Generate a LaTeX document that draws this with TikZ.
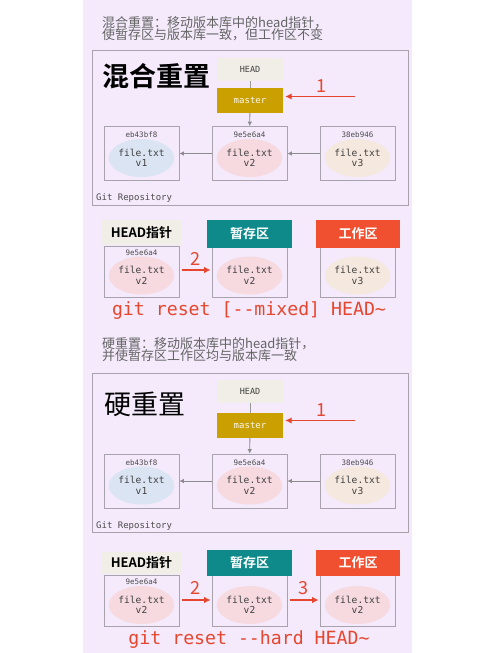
\documentclass[tikz,border=0pt]{standalone}
\usepackage{fontspec}
\setmonofont{DejaVu Sans Mono}
\newfontfamily\cjk{Noto Sans CJK SC}[BoldFont={Noto Sans CJK SC Bold}]
\usetikzlibrary{shapes.geometric,arrows.meta}
\definecolor{lav}{RGB}{244,234,251}
\definecolor{boxline}{RGB}{168,162,172}
\definecolor{headfill}{RGB}{240,238,230}
\definecolor{gold}{RGB}{201,160,0}
\definecolor{teal}{RGB}{14,138,138}
\definecolor{orng}{RGB}{240,80,48}
\definecolor{redc}{RGB}{230,70,46}
\definecolor{bv1}{RGB}{218,228,242}
\definecolor{bv2}{RGB}{246,218,224}
\definecolor{bv3}{RGB}{245,232,222}
\definecolor{desc}{RGB}{100,100,100}
\tikzset{
  desctext/.style={anchor=west,align=left,text=desc,inner sep=0pt,font=\cjk\fontsize{13}{12.5}\selectfont},
  bigtitle/.style={inner sep=0pt,font=\cjk\fontsize{27}{27}\selectfont},
  repo/.style={draw=boxline,line width=0.8pt},
  headnode/.style={fill=headfill,minimum width=66pt,minimum height=23pt,inner sep=0pt,text=black!75,font=\ttfamily\fontsize{8.5}{9}\selectfont},
  masternode/.style={fill=gold,minimum width=66pt,minimum height=25pt,inner sep=0pt,text=white!92!gold,font=\ttfamily\fontsize{9}{9}\selectfont},
  commit/.style={draw=boxline,line width=0.7pt,minimum width=75pt,minimum height=54pt,inner sep=0pt},
  lbox/.style={draw=boxline,line width=0.7pt,minimum width=75pt,minimum height=51pt,inner sep=0pt},
  hashtext/.style={inner sep=0pt,text=black!70,font=\ttfamily\fontsize{7.5}{7.5}\selectfont},
  blob/.style={ellipse,minimum width=58pt,minimum height=38pt,inner sep=0pt,align=center,text=black!75,font=\ttfamily\fontsize{9.6}{10.5}\selectfont},
  garrow/.style={draw=black!45,line width=0.8pt,-{Latex[length=4.5pt,width=4.5pt]}},
  gline/.style={draw=black!40,line width=0.8pt},
  rarrow/.style={draw=redc,line width=1.6pt,-{Latex[length=6.5pt,width=6.5pt]}},
  rlabel/.style={inner sep=0pt,text=redc,font=\cjk\fontsize{18}{18}\selectfont},
  hdr/.style={minimum height=26pt,inner sep=0pt,font=\cjk\bfseries\fontsize{13}{13}\selectfont},
  cmd/.style={inner sep=0pt,text=redc,font=\ttfamily\fontsize{18.2}{18}\selectfont},
  repolabel/.style={anchor=west,inner sep=0pt,text=black!70,font=\ttfamily\fontsize{9}{9}\selectfont}
}
\newcommand\mkcommit[6]{%
  \node[commit] (#1) at (#2,#3) {};
  \node[hashtext] (#1h) at (#2,{#3-18.5}) {#4};
  \node[blob,fill=#5] (#1b) at (#2,{#3+4.5}) {file.txt\\#6};
}
\newcommand\mklbox[5]{%
  \node[lbox] (#1) at (#2,#3) {};
  \node[blob,fill=#4] (#1b) at (#2,{#3+4}) {file.txt\\#5};
}
\begin{document}
\begin{tikzpicture}[x=1pt,y=-1pt]
\useasboundingbox (0,0) rectangle (500,653);
\fill[white] (0,0) rectangle (500,653);
\fill[lav] (83,0) rectangle (412,653);

% ---------- Section 1: mixed reset ----------
\node[desctext] (d1) at (102,28.5) {混合重置：移动版本库中的head指针，\\使暂存区与版本库一致，但工作区不变};
\node[repo,minimum width=316pt,minimum height=155pt,inner sep=0pt] (repo1) at (250,127.5) {};
\node[bigtitle,font=\cjk\bfseries\fontsize{27}{27}\selectfont] (t1) at (156,76) {混合重置};
\node[headnode] (hd1) at (250,69.5) {HEAD};
\node[masternode] (ms1) at (250,100.5) {master};
\draw[gline] (hd1) -- (ms1);
\mkcommit{a1}{141.5}{153.5}{eb43bf8}{bv1}{v1}
\mkcommit{b1}{249.5}{153.5}{9e5e6a4}{bv2}{v2}
\mkcommit{c1}{357.5}{153.5}{38eb946}{bv3}{v3}
\draw[garrow] (ms1) -- (b1);
\draw[garrow] (b1) -- (a1);
\draw[garrow] (c1) -- (b1);
\node[repolabel] (rl1) at (96,198.5) {Git Repository};
\coordinate (r1s) at (355,96.5);
\draw[rarrow] (r1s) -- ([xshift=2pt]ms1.east |- r1s);
\node[rlabel] (n1a) at (321,86) {1};

% lower part 1
\mklbox{hb1}{141.5}{271.5}{bv2}{v2}
\node[hashtext] (hb1h) at (141.5,253) {9e5e6a4};
\mklbox{sb1}{249.5}{271.5}{bv2}{v2}
\mklbox{wb1}{357.5}{271.5}{bv3}{v3}
\node[hdr,fill=headfill,minimum width=81pt,minimum height=25pt,text=black] (hh1) at (141.5,232.5) {HEAD指针};
\node[hdr,fill=teal,minimum width=85pt,minimum height=28pt,text=white] (sh1) at (249.5,234) {暂存区};
\node[hdr,fill=orng,minimum width=84pt,minimum height=28pt,text=white] (wh1) at (358,234) {工作区};
\draw[rarrow,shorten <=3pt,shorten >=1pt] (hb1.east |- 0,270) -- (sb1.west |- 0,270);
\node[rlabel] (n2a) at (195.5,259) {2};
\node[cmd] (cmd1) at (249,311) {git reset [-{}-mixed] HEAD\textasciitilde};

% ---------- Section 2: hard reset ----------
\node[desctext] (d2) at (102,349.5) {硬重置：移动版本库中的head指针，\\并使暂存区工作区均与版本库一致};
\node[repo,minimum width=316pt,minimum height=159pt,inner sep=0pt] (repo2) at (250,452.5) {};
\node[bigtitle] (t2) at (144.5,404) {硬重置};
\node[headnode] (hd2) at (250,391) {HEAD};
\node[masternode] (ms2) at (250,425.5) {master};
\draw[gline] (hd2) -- (ms2);
\mkcommit{a2}{141.5}{481}{eb43bf8}{bv1}{v1}
\mkcommit{b2}{249.5}{481}{9e5e6a4}{bv2}{v2}
\mkcommit{c2}{357.5}{481}{38eb946}{bv3}{v3}
\draw[garrow] (ms2) -- (b2);
\draw[garrow] (b2) -- (a2);
\draw[garrow] (c2) -- (b2);
\node[repolabel] (rl2) at (96,526) {Git Repository};
\coordinate (r2s) at (355,420.5);
\draw[rarrow] (r2s) -- ([xshift=2pt]ms2.east |- r2s);
\node[rlabel] (n1b) at (321,410) {1};

% lower part 2
\mklbox{hb2}{141.5}{601}{bv2}{v2}
\node[hashtext] (hb2h) at (141.5,582) {9e5e6a4};
\mklbox{sb2}{249.5}{601}{bv2}{v2}
\mklbox{wb2}{357.5}{601}{bv2}{v2}
\node[hdr,fill=headfill,minimum width=81pt,minimum height=22pt,text=black] (hh2) at (141.5,562.5) {HEAD指针};
\node[hdr,fill=teal,minimum width=85pt,minimum height=26pt,text=white] (sh2) at (249.5,563) {暂存区};
\node[hdr,fill=orng,minimum width=84pt,minimum height=26pt,text=white] (wh2) at (358,563) {工作区};
\draw[rarrow,shorten <=3pt,shorten >=1pt] (hb2.east |- 0,600) -- (sb2.west |- 0,600);
\node[rlabel] (n2b) at (195.5,588) {2};
\draw[rarrow,shorten <=3pt,shorten >=1pt] (sb2.east |- 0,600) -- (wb2.west |- 0,600);
\node[rlabel] (n3b) at (303,588) {3};
\node[cmd] (cmd2) at (249,640) {git reset -{}-hard HEAD\textasciitilde};
\end{tikzpicture}
\end{document}
